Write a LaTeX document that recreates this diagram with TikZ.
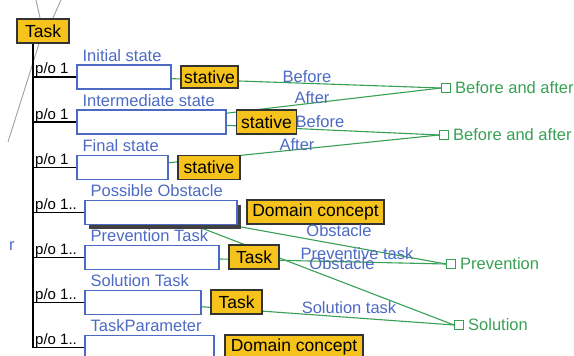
\documentclass[tikz,border=0pt]{standalone}
\usepackage{fontspec}
\setmainfont{Liberation Sans}
\usepackage{tikz}
\usetikzlibrary{positioning,backgrounds,shadows,calc}
\definecolor{conceptorange}{RGB}{246,194,28}
\definecolor{slotblue}{RGB}{76,106,196}
\definecolor{relgreen}{RGB}{56,160,84}
\definecolor{linkgray}{RGB}{160,160,160}

\begin{document}
\begin{tikzpicture}[x=1pt, y=-1pt,
  concept/.style={draw=black!80, fill=conceptorange, line width=1.3pt, inner sep=0pt, minimum height=24pt, font=\fontsize{17.5}{20}\selectfont},
  slot/.style={draw=slotblue, fill=white, line width=1.1pt, inner sep=0pt, minimum height=24pt},
  slotname/.style={anchor=base west, inner sep=0pt, text=slotblue, font=\fontsize{16.5}{19}\selectfont},
  po/.style={anchor=base west, inner sep=0pt, font=\fontsize{15}{17}\selectfont},
  port/.style={draw=relgreen, fill=white, line width=1pt, minimum size=9pt, inner sep=0pt},
  portname/.style={text=relgreen, inner sep=0pt, font=\fontsize{16.5}{19}\selectfont},
  role/.style={text=slotblue, inner sep=0pt, font=\fontsize{16.5}{19}\selectfont},
  rel/.style={draw=relgreen, line width=1.1pt},
  isa/.style={draw=linkgray, line width=0.9pt}]
\clip (0,0) rectangle (574,356);

\node[concept, minimum width=52pt] (task) at (43,31) {Task};

\node[slot, minimum width=94pt] (s1) at (124,77) {};
\node[slot, minimum width=149pt] (s2) at (151.5,122) {};
\node[slot, minimum width=91pt] (s3) at (122.5,167.5) {};
\node[slot, minimum width=152pt, drop shadow={shadow xshift=4pt, shadow yshift=-4pt, fill=black!75, opacity=1}] (s4) at (161,212.5) {};
\node[slot, minimum width=134pt] (s5) at (152,257.5) {};
\node[slot, minimum width=116pt] (s6) at (143,302.5) {};
\node[slot, minimum width=129pt] (s7) at (149.5,347.5) {};

\foreach \i/\t in {1/Initial state, 2/Intermediate state, 3/Final state, 4/Possible Obstacle, 5/Prevention Task, 6/Solution Task, 7/TaskParameter}
  \node[slotname] (n\i) at ($(s\i.north west)+(6,-3)$) {\t};

\coordinate (trunk) at ([xshift=-10pt]task.south);
\draw[line width=1.4pt] (trunk) |- (s7.west);
\foreach \i in {1,...,6}
  \draw[line width=1.4pt] (s\i.west -| trunk) -- (s\i.west);
\foreach \i in {1,2,3}
  \node[po] (po\i) at ($(s\i.west -| trunk)+(2,-3)$) {p/o 1};
\foreach \i in {4,...,7}
  \node[po] (po\i) at ($(s\i.west -| trunk)+(2,-3)$) {p/o 1..};

\node[concept, minimum width=57pt, minimum height=22pt] (c1) at (209.5,77) {stative};
\node[concept, minimum width=60pt] (c2) at (266.5,122) {stative};
\node[concept, minimum width=62pt] (c3) at (209,167.5) {stative};
\node[concept, minimum width=137pt] (c4) at (315.5,212) {Domain concept};
\node[concept, minimum width=50pt] (c5) at (254,257) {Task};
\node[concept, minimum width=51pt] (c6) at (236.5,302) {Task};
\node[concept, minimum width=138pt] (c7) at (294,347) {Domain concept};

\node[port] (p1) at (446,88) {};
\node[port] (p2) at (444,135) {};
\node[port] (p3) at (451,264) {};
\node[port] (p4) at (459,325) {};
\node[portname, right=4pt of p1] (q1) {Before and after};
\node[portname, right=4pt of p2] (q2) {Before and after};
\node[portname, right=4pt of p3] (q3) {Prevention};
\node[portname, right=4pt of p4] (q4) {Solution};

\node[role] (r1) at (307,77) {Before};
\node[role] (r2) at (312,98) {After};
\node[role] (r3) at (320,122) {Before};
\node[role] (r4) at (297,145) {After};
\node[role] (r5) at (339,231) {Obstacle};
\node[role] (r6) at (357,254) {Preventive task};
\node[role] (r7) at (342,264) {Obstacle};
\node[role] (r8) at (349,308) {Solution task};
\node[role, anchor=base west] (cut) at (9,250) {r};

\coordinate (up1) at (36,0);
\coordinate (up2) at (61,0);
\coordinate (down1) at (8,142);

\begin{scope}[on background layer]
\draw[isa] (up1) -- (task.center);
\draw[isa] (up2) -- ([xshift=4pt]task.center);
\draw[isa] (task.center) -- (down1);
\draw[rel] (s1.center) -- (p1.west);
\draw[rel] (s2.center) -- (p1.west);
\draw[rel] (s2.center) -- (p2.west);
\draw[rel] (s3.center) -- (p2.west);
\draw[rel] (s4.center) -- (p3.west);
\draw[rel] (s5.center) -- (p3.west);
\draw[rel] (s4.center) -- (p4.west);
\draw[rel] (s6.center) -- (p4.west);
\end{scope}
\end{tikzpicture}
\end{document}
